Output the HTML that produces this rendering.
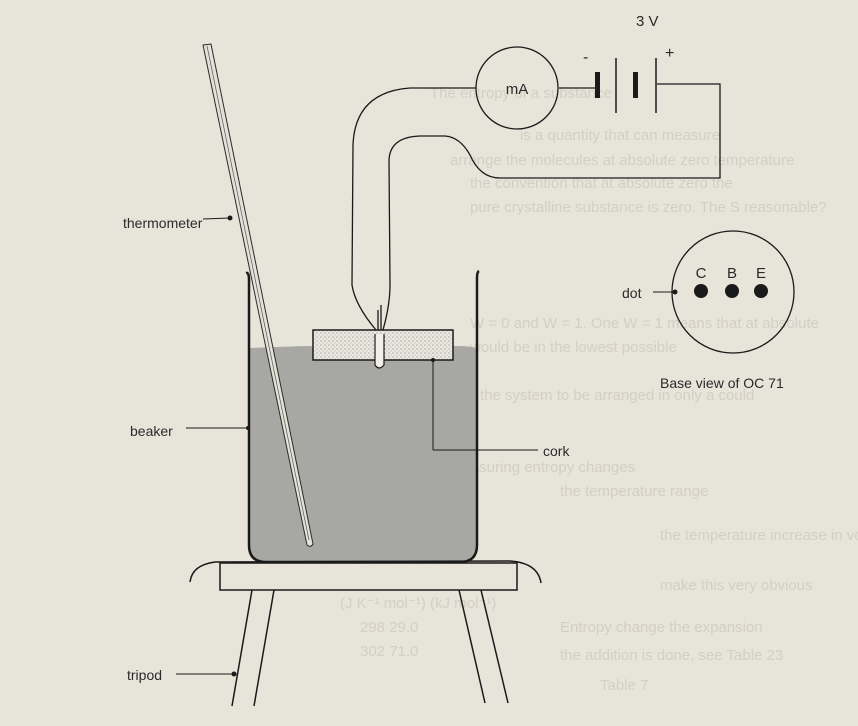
<!DOCTYPE html>
<html><head><meta charset="utf-8"><style>
html,body{margin:0;padding:0;background:#e7e4da;}
svg{display:block;}
text{font-family:"Liberation Sans",sans-serif;fill:#2a2a2a;}
.b{fill:#d3cfc4;font-size:15px;}
</style></head><body>
<svg width="858" height="726" viewBox="0 0 858 726" xmlns="http://www.w3.org/2000/svg">
<rect width="858" height="726" fill="#e7e4da"/>
<g class="bl">
<text class="b" x="430" y="98">The entropy of a substance</text>
<text class="b" x="520" y="140">is a quantity that can measure</text>
<text class="b" x="450" y="165">arrange the molecules at absolute zero temperature</text>
<text class="b" x="470" y="188">the convention that at absolute zero the</text>
<text class="b" x="470" y="212">pure crystalline substance is zero. The S reasonable?</text>
<text class="b" x="470" y="328">W = 0 and W = 1. One W = 1 means that at absolute</text>
<text class="b" x="470" y="352">would be in the lowest possible</text>
<text class="b" x="480" y="400">the system to be arranged in only a could</text>
<text class="b" x="450" y="472">Measuring entropy changes</text>
<text class="b" x="560" y="496">the temperature range</text>
<text class="b" x="340" y="608">(J K⁻¹ mol⁻¹)  (kJ mol⁻¹)</text>
<text class="b" x="360" y="632">298   29.0</text>
<text class="b" x="560" y="632">Entropy change the expansion</text>
<text class="b" x="360" y="656">302   71.0</text>
<text class="b" x="560" y="660">the addition is done, see Table 23</text>
<text class="b" x="600" y="690">Table 7</text>
<text class="b" x="660" y="590">make this very obvious</text>
<text class="b" x="660" y="540">the temperature increase in volume</text>
</g>
<defs><pattern id="cork" width="4" height="4" patternUnits="userSpaceOnUse"><rect width="4" height="4" fill="#ebe8e0"/><circle cx="1" cy="1" r="0.6" fill="#888"/><circle cx="3" cy="3" r="0.5" fill="#999"/></pattern></defs>
<path d="M250 348 Q300 346 312 346 L455 346 Q470 346 476 348 L476 545 Q476 562 458 562 L266 562 Q250 562 250 545 Z" fill="#a7a7a3"/>
<path d="M246 273 Q249 272 249 280 L249 545 Q249 562 266 562 L460 562 Q477 562 477 545 L477 278 Q477 272 479 271" fill="none" stroke="#1a1a1a" stroke-width="2.5"/>
<path d="M203 45 L211 44 L313 544 Q311 548 307 545 Z" fill="#e4e1d8" stroke="#2a2a2a" stroke-width="1"/>
<line x1="207" y1="46" x2="309" y2="540" stroke="#555" stroke-width="0.7"/>
<rect x="313" y="330" width="140" height="30" fill="url(#cork)" stroke="#1a1a1a" stroke-width="1.5"/>
<path d="M375 334 L375 365 Q379 371 384 365 L384 334" fill="#f0eee6" stroke="#1a1a1a" stroke-width="1.2"/>
<g fill="none" stroke="#1a1a1a" stroke-width="1.3">
<path d="M476 88 L410 88 Q355 92 353 145 L352 285 Q355 305 376 330"/>
<path d="M383 330 Q390 305 390 285 L389 160 Q390 137 420 136 L445 136 Q460 137 470 155 Q480 178 500 178 L720 178 L720 84 L657 84"/>
<path d="M378 330 L378 310 M381 330 L381 305"/>
<path d="M559 88 L597 88"/>
</g>
<circle cx="517" cy="88" r="41" fill="none" stroke="#1a1a1a" stroke-width="1.3"/>
<text x="517" y="94" font-size="15" text-anchor="middle">mA</text>
<rect x="595" y="72" width="5" height="26" fill="#1a1a1a"/>
<line x1="616" y1="58" x2="616" y2="113" stroke="#1a1a1a" stroke-width="1.5"/>
<rect x="633" y="72" width="5" height="26" fill="#1a1a1a"/>
<line x1="656" y1="58" x2="656" y2="113" stroke="#1a1a1a" stroke-width="1.5"/>
<text x="583" y="62" font-size="16">-</text>
<text x="665" y="58" font-size="16">+</text>
<text x="636" y="26" font-size="15">3 V</text>
<g fill="none" stroke="#1a1a1a" stroke-width="1.5">
<path d="M190 582 Q192 565 215 562 L510 561 Q538 563 541 583"/>
<rect x="220" y="563" width="297" height="27"/>
<path d="M252 590 L232 706 M274 590 L254 706 M459 590 L485 703 M481 590 L508 703"/>
</g>
<g stroke="#1a1a1a" stroke-width="1">
<line x1="203" y1="219" x2="230" y2="218"/>
<line x1="186" y1="428" x2="248" y2="428"/>
<line x1="433" y1="360" x2="433" y2="450"/><line x1="433" y1="450" x2="538" y2="450"/>
<line x1="176" y1="674" x2="234" y2="674"/>
<line x1="653" y1="292" x2="674" y2="292"/>
</g>
<circle cx="230" cy="218" r="2.5" fill="#1a1a1a"/>
<circle cx="248" cy="428" r="2" fill="#1a1a1a"/>
<circle cx="433" cy="360" r="2" fill="#1a1a1a"/>
<circle cx="234" cy="674" r="2.5" fill="#1a1a1a"/>
<circle cx="675" cy="292" r="2.5" fill="#1a1a1a"/>
<text x="123" y="228" font-size="14">thermometer</text>
<text x="130" y="436" font-size="14">beaker</text>
<text x="543" y="456" font-size="14">cork</text>
<text x="127" y="680" font-size="14">tripod</text>
<circle cx="733" cy="292" r="61" fill="none" stroke="#1a1a1a" stroke-width="1.3"/>
<circle cx="701" cy="291" r="7" fill="#1a1a1a"/>
<circle cx="732" cy="291" r="7" fill="#1a1a1a"/>
<circle cx="761" cy="291" r="7" fill="#1a1a1a"/>
<text x="701" y="278" font-size="15" text-anchor="middle">C</text>
<text x="732" y="278" font-size="15" text-anchor="middle">B</text>
<text x="761" y="278" font-size="15" text-anchor="middle">E</text>
<text x="622" y="298" font-size="14">dot</text>
<text x="660" y="388" font-size="14">Base view of OC 71</text>
</svg>
</body></html>
